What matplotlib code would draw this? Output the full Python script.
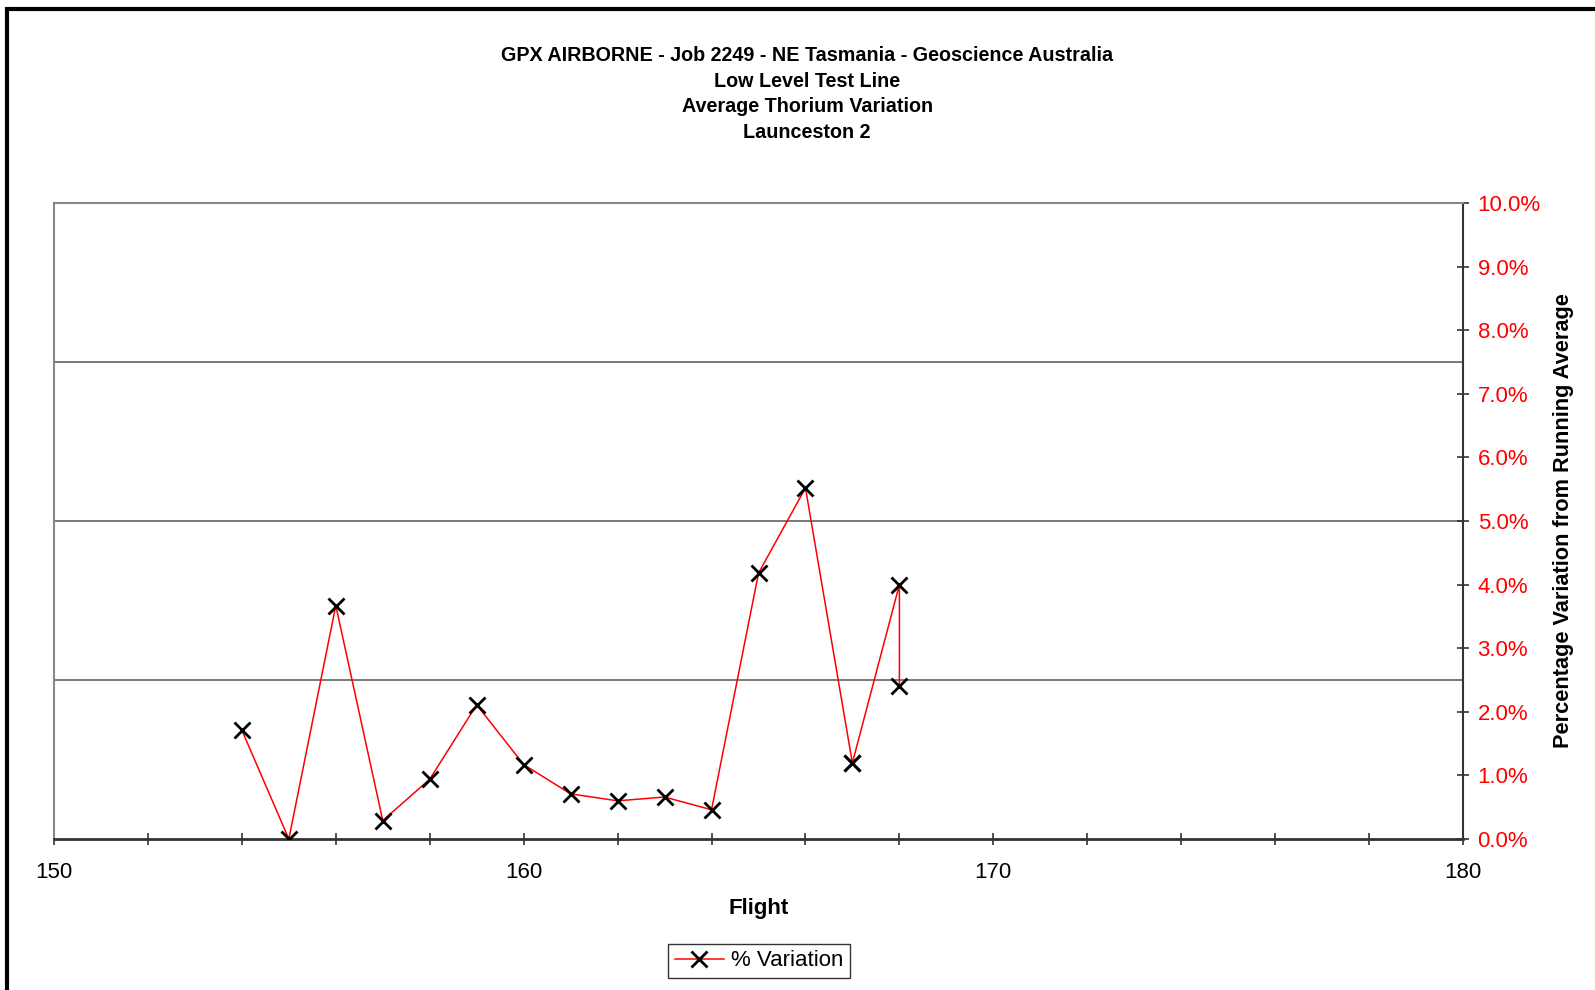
import numpy as np
import matplotlib.pyplot as plt
from matplotlib.ticker import MultipleLocator, FuncFormatter
from matplotlib.patches import Rectangle

plt.rcParams['font.family'] = ['Liberation Sans', 'DejaVu Sans']

# Data (flight number, % variation)
flights = [154, 155, 156, 157, 158, 159, 160, 161, 162, 163, 164, 165, 166, 167, 167, 168, 168]
variation = [1.71, 0.0, 3.67, 0.29, 0.94, 2.11, 1.17, 0.71, 0.60, 0.66, 0.46, 4.18, 5.52, 1.19, 1.20, 4.00, 2.41]
gridlines = [2.5, 5.0, 7.5]

title = ('GPX AIRBORNE - Job 2249 - NE Tasmania - Geoscience Australia\n'
         'Low Level Test Line\nAverage Thorium Variation\nLaunceston 2')

fig = plt.figure(figsize=(15.95, 9.9), dpi=100)
ax = fig.add_axes([54/1595, 1 - 839/990, (1463-54)/1595, (839-203)/990])

# outer border (only left/top visible in the original)
fig.patches.append(Rectangle((7/1595, -0.05), 1.2, 1 - 9/990 + 0.05, transform=fig.transFigure,
                             fill=False, edgecolor='black', linewidth=3))

for g in gridlines:
    ax.axhline(g, color='#555555', linewidth=1.1, zorder=1)

ax.plot(flights, variation, color='red', linewidth=1.1, marker='x', markersize=11,
        markeredgecolor='black', markeredgewidth=2, label='% Variation', zorder=3)

ax.set_xlim(150, 180)
ax.set_ylim(0, 10)
ax.xaxis.set_major_locator(MultipleLocator(10))
ax.xaxis.set_minor_locator(MultipleLocator(2))
ax.yaxis.set_major_locator(MultipleLocator(1))
ax.yaxis.tick_right()
ax.yaxis.set_label_position('right')
ax.yaxis.set_major_formatter(FuncFormatter(lambda v, p: '%.1f%%' % v))

ax.tick_params(axis='x', which='both', direction='inout', length=9, width=1.2,
               labelsize=16, pad=12, colors='#333333', labelcolor='black')
ax.tick_params(axis='y', which='both', direction='inout', length=9, width=1.2,
               labelsize=16, pad=6, colors='#333333', labelcolor='red')

for s in ['top', 'left']:
    ax.spines[s].set_color('#888888')
    ax.spines[s].set_linewidth(1.5)
ax.spines['bottom'].set_color('#333333')
ax.spines['bottom'].set_linewidth(2)
ax.spines['right'].set_color('#333333')
ax.spines['right'].set_linewidth(1.5)

ax.set_xlabel('Flight', fontsize=16, fontweight='bold', labelpad=11)
ax.set_ylabel('Percentage Variation from Running Average', fontsize=15.7, fontweight='bold', labelpad=9)

fig.text(0.506, 1 - 46/990, title, ha='center', va='top', fontsize=14.2, fontweight='bold',
         linespacing=1.44)

leg = fig.legend(loc='center', bbox_to_anchor=(759/1595, 1 - 961/990), fontsize=16,
                 frameon=True, fancybox=False, edgecolor='black', handlelength=2.2,
                 borderpad=0.3, handletextpad=0.3)
leg.get_frame().set_linewidth(1)

fig.savefig('out.png', dpi=100)
